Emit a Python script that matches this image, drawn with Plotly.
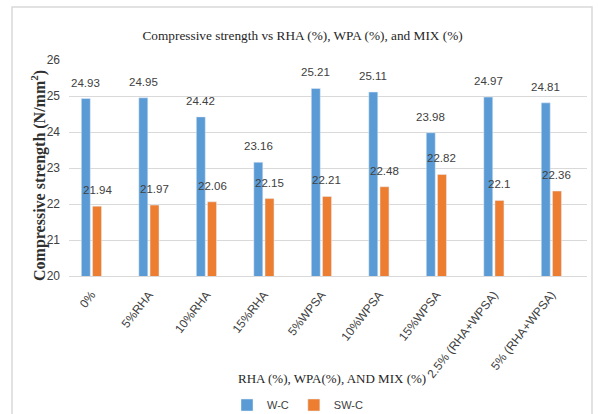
import plotly.graph_objects as go

categories = ["0%", "5%RHA", "10%RHA", "15%RHA", "5%WPSA", "10%WPSA",
              "15%WPSA", "2.5% (RHA+WPSA)", "5% (RHA+WPSA)"]
wc_values = [24.93, 24.95, 24.42, 23.16, 25.21, 25.11, 23.98, 24.97, 24.81]
swc_values = [21.94, 21.97, 22.06, 22.15, 22.21, 22.48, 22.82, 22.1, 22.36]
y_ticks = [20, 21, 22, 23, 24, 25, 26]

W, H = 598, 414
L, R, T, B = 69, 11, 60, 138          # plot-area margins in px
PW, PH = W - L - R, H - T - B
X_RANGE = [-0.39, 8.62]
BARGAP = 0.61

sans = "Liberation Sans, Arial, sans-serif"
serif = "Liberation Serif, Times New Roman, serif"
label_font = dict(family=sans, size=11.5, color="#404040")


def px_x(px):
    return (px - L) / PW


def px_y(py):
    return (H - B - py) / PH


fig = go.Figure()
fig.add_trace(go.Bar(name="W-C", x=categories, y=wc_values, marker_color="#5B9BD5"))
fig.add_trace(go.Bar(name="SW-C", x=categories, y=swc_values, marker_color="#ED7D31"))

# value labels above each bar
slot_px = (1 - BARGAP) * PW / (X_RANGE[1] - X_RANGE[0]) / 2
for values, shift in ((wc_values, -slot_px / 2), (swc_values, slot_px / 2)):
    for cat, v in zip(categories, values):
        fig.add_annotation(x=cat, y=v, text=f"{v:g}", showarrow=False,
                           xanchor="center", yanchor="bottom", xshift=shift, yshift=8,
                           font=label_font)

fig.update_layout(
    width=W, height=H,
    margin=dict(l=L, r=R, t=T, b=B, autoexpand=False),
    paper_bgcolor="white", plot_bgcolor="white",
    barmode="group", bargap=BARGAP, bargroupgap=0.2,
    title=dict(text="Compressive strength vs RHA (%), WPA (%), and MIX (%)",
               x=0.506, xref="container", xanchor="center",
               y=1 - 35 / H, yref="container", yanchor="middle",
               font=dict(family=serif, size=13.3, color="#262626")),
    showlegend=True,
    legend=dict(orientation="h", x=px_x(298), xanchor="center", y=px_y(405), yanchor="middle",
                font=dict(family=sans, size=11, color="#404040"),
                itemwidth=30, traceorder="normal"),
    xaxis=dict(range=X_RANGE, tickangle=-52,
               tickfont=dict(family=sans, size=12, color="#404040"),
               showline=True, linecolor="#D9D9D9", linewidth=1,
               ticks="", showgrid=False, automargin=False, ticklabelstandoff=6),
    yaxis=dict(range=[20, 26], tickvals=y_ticks,
               tickfont=dict(family=sans, size=12, color="#404040"),
               showgrid=True, gridcolor="#D9D9D9", gridwidth=1,
               zeroline=False, ticks="", ticklabelstandoff=8, automargin=False),
)

# axis titles
fig.add_annotation(text="<b>Compressive strength (N/mm<sup>2</sup>)</b>", textangle=-90,
                   xref="paper", yref="paper", x=px_x(38), y=px_y(176),
                   xanchor="center", yanchor="middle", showarrow=False,
                   font=dict(family=serif, size=16, color="#303030"))
fig.add_annotation(text="RHA (%), WPA(%), AND MIX (%)",
                   xref="paper", yref="paper", x=px_x(332), y=px_y(378),
                   xanchor="center", yanchor="middle", showarrow=False,
                   font=dict(family=serif, size=13, color="#262626"))

# chart frame
fig.add_shape(type="rect", xref="paper", yref="paper",
              x0=px_x(12), x1=px_x(592), y0=px_y(440), y1=px_y(7),
              line=dict(color="#D9D9D9", width=1.5), fillcolor="rgba(0,0,0,0)", layer="below")

fig.write_html("out.html")
